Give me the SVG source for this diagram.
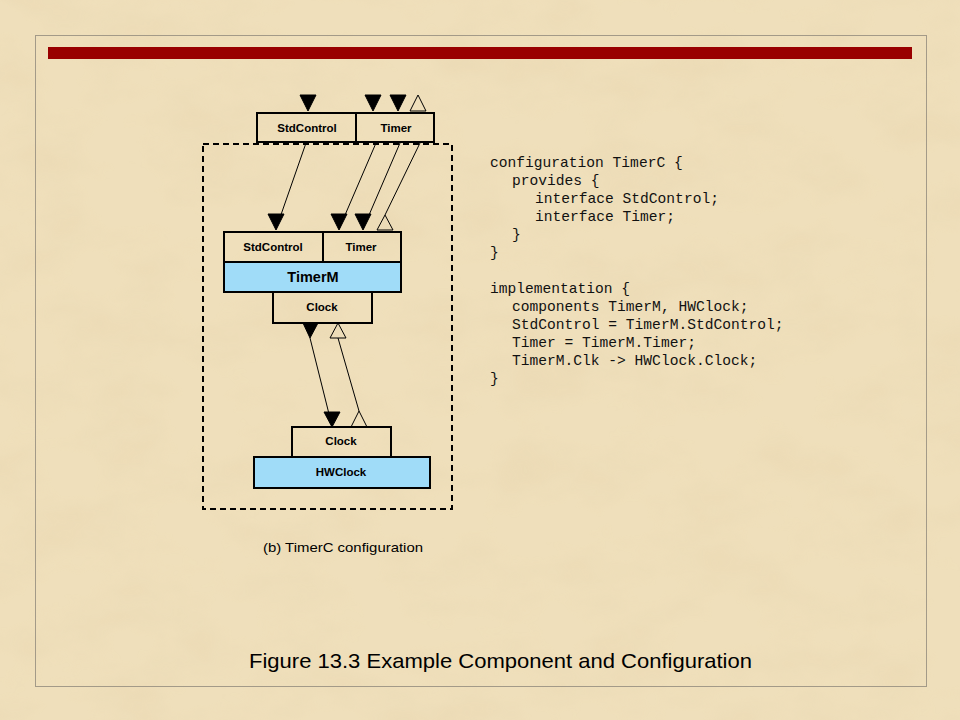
<svg xmlns="http://www.w3.org/2000/svg" width="960" height="720" viewBox="0 0 960 720">
<defs>
<filter id="tex" x="0" y="0" width="100%" height="100%">
<feTurbulence type="fractalNoise" baseFrequency="0.012 0.02" numOctaves="4" seed="7" result="n"/>
<feColorMatrix in="n" type="matrix" values="0 0 0 0 0.80  0 0 0 0 0.66  0 0 0 0 0.42  0 0 0 1.1 -0.45" result="c"/>
<feComposite in="c" in2="SourceGraphic" operator="in"/>
</filter>
<style>
.box{fill:none;stroke:#000;stroke-width:2}
.blue{fill:#a0dcf8;stroke:#000;stroke-width:2}
.lbl{font-family:"Liberation Sans",Arial,sans-serif;font-size:11.5px;font-weight:bold;text-anchor:middle;fill:#000}
.big{font-family:"Liberation Sans",Arial,sans-serif;font-size:14.5px;font-weight:bold;text-anchor:middle;fill:#000}
.code{font-family:"Liberation Mono","Courier New",monospace;font-size:14.6px;fill:#111}
.wire{stroke:#000;stroke-width:1;fill:none}
.fill{fill:#000;stroke:#000;stroke-width:1}
.open{fill:none;stroke:#000;stroke-width:1}
</style>
</defs>
<rect width="960" height="720" fill="#efdfbb"/>
<rect width="960" height="720" fill="#efdfbb" filter="url(#tex)" opacity="0.7"/>
<rect x="35.5" y="35.5" width="891" height="651" fill="none" stroke="#a39a88" stroke-width="1"/>
<rect x="48" y="47" width="864" height="12" fill="#990000"/>

<g id="boundary">
<rect x="203" y="144" width="249" height="365" fill="none" stroke="#000" stroke-width="2" stroke-dasharray="6,4"/>
</g>

<g id="timerc-interfaces">
<rect class="box" x="257" y="113" width="177" height="29"/>
<line x1="356" y1="113" x2="356" y2="142" stroke="#000" stroke-width="2"/>
<text class="lbl" x="307" y="132">StdControl</text>
<text class="lbl" x="396" y="132">Timer</text>
<polygon class="fill" points="300,95 316,95 308,111"/>
<polygon class="fill" points="365,95 381,95 373,111"/>
<polygon class="fill" points="390,95 406,95 398,111"/>
<polygon class="open" points="410,111 426,111 418,95"/>
</g>

<g id="timerm">
<rect class="box" x="224" y="232" width="177" height="30"/>
<line x1="323" y1="232" x2="323" y2="262" stroke="#000" stroke-width="2"/>
<rect class="blue" x="224" y="262" width="177" height="30"/>
<rect class="box" x="273" y="292" width="99" height="31"/>
<text class="lbl" x="273" y="251">StdControl</text>
<text class="lbl" x="361" y="251">Timer</text>
<text class="big" x="313" y="282">TimerM</text>
<text class="lbl" x="322" y="311">Clock</text>
</g>

<g id="hwclock">
<rect class="box" x="292" y="427" width="99" height="30"/>
<rect class="blue" x="254" y="457" width="176" height="31"/>
<text class="lbl" x="341" y="445">Clock</text>
<text class="lbl" x="341" y="476">HWClock</text>
</g>

<g id="connectors">
<line class="wire" x1="306" y1="143" x2="276" y2="229"/>
<polygon class="fill" points="268,214 284,214 276,230"/>
<line class="wire" x1="376" y1="143" x2="339" y2="229"/>
<polygon class="fill" points="331,214 347,214 339,230"/>
<line class="wire" x1="400" y1="143" x2="363" y2="229"/>
<polygon class="fill" points="355,214 371,214 363,230"/>
<line class="wire" x1="420" y1="143" x2="385" y2="215"/>
<polygon class="open" points="377,230 393,230 385,215"/>
<polygon class="fill" points="303,323 318,323 310,338"/>
<line class="wire" x1="310" y1="338" x2="332" y2="426"/>
<polygon class="fill" points="324,412 340,412 332,427"/>
<polygon class="open" points="330,338 346,338 338,323"/>
<line class="wire" x1="338" y1="338" x2="359" y2="411"/>
<polygon class="open" points="351,427 367,427 359,411"/>
</g>

<g id="code">
<text class="code" x="490" y="167">configuration TimerC {</text>
<text class="code" x="512" y="185">provides {</text>
<text class="code" x="535" y="203">interface StdControl;</text>
<text class="code" x="535" y="221">interface Timer;</text>
<text class="code" x="512" y="239">}</text>
<text class="code" x="490" y="257">}</text>
<text class="code" x="490" y="293">implementation {</text>
<text class="code" x="512" y="311">components TimerM, HWClock;</text>
<text class="code" x="512" y="329">StdControl = TimerM.StdControl;</text>
<text class="code" x="512" y="347">Timer = TimerM.Timer;</text>
<text class="code" x="512" y="365">TimerM.Clk -&gt; HWClock.Clock;</text>
<text class="code" x="490" y="383">}</text>
</g>

<text x="263" y="552" font-family="'Liberation Sans',Arial,sans-serif" font-size="13.5" textLength="160" lengthAdjust="spacingAndGlyphs">(b) TimerC configuration</text>
<text x="249" y="668" font-family="'Liberation Sans',Arial,sans-serif" font-size="21" textLength="503" lengthAdjust="spacingAndGlyphs">Figure 13.3  Example Component and Configuration</text>
</svg>
